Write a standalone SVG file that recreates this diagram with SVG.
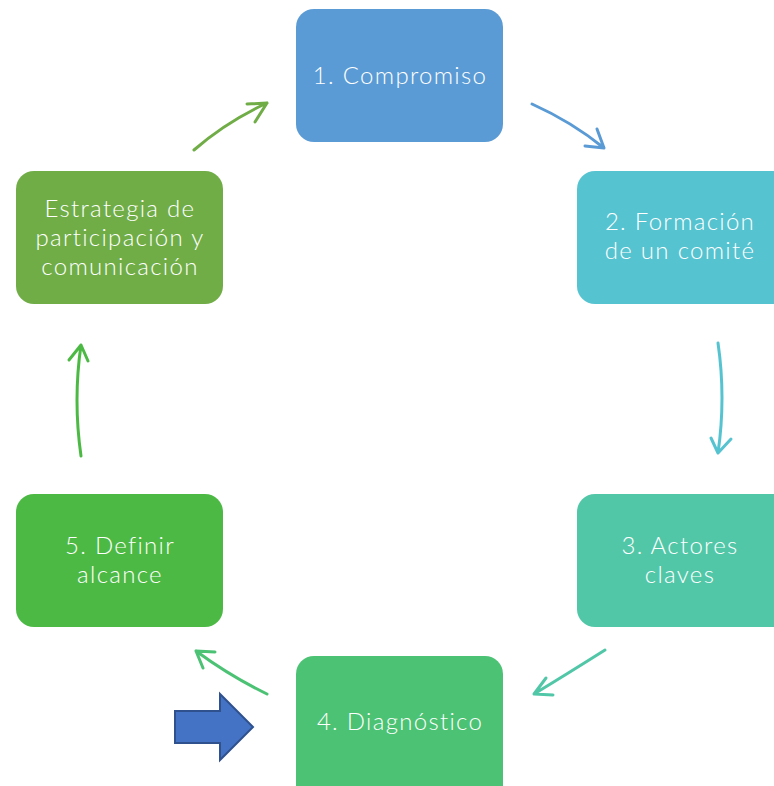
<svg xmlns="http://www.w3.org/2000/svg" width="774" height="786" viewBox="0 0 774 786">
<style>
.t{font-family:Lato,"Open Sans","Liberation Sans",sans-serif;font-size:24px;letter-spacing:1.3px;fill:#fff;text-anchor:middle;font-weight:300}
.c{fill:none;stroke-width:3;stroke-linecap:round;stroke-linejoin:round}
</style>
<rect width="774" height="786" fill="#fff"/>
<g id="n1"><rect x="296" y="9" width="207" height="133" rx="18" fill="#5B9BD5"/><text class="t" x="400" y="84">1. Compromiso</text></g>
<g id="n2"><rect x="577" y="171" width="215" height="133" rx="18" fill="#56C3D0"/><text class="t" x="680" y="230">2. Formación</text><text class="t" x="680" y="259">de un comité</text></g>
<g id="n3"><rect x="577" y="494" width="215" height="133" rx="18" fill="#51C7A8"/><text class="t" x="680" y="554">3. Actores</text><text class="t" x="680" y="583">claves</text></g>
<g id="n4"><rect x="296" y="656" width="207" height="150" rx="18" fill="#4CC274"/><text class="t" x="400" y="730">4. Diagnóstico</text></g>
<g id="n5"><rect x="16" y="494" width="207" height="133" rx="18" fill="#4CB944"/><text class="t" x="120" y="554">5. Definir</text><text class="t" x="120" y="583">alcance</text></g>
<g id="n6"><rect x="16" y="171" width="207" height="133" rx="18" fill="#70AD47"/><text class="t" x="120" y="217">Estrategia de</text><text class="t" x="120" y="246">participación y</text><text class="t" x="120" y="275">comunicación</text></g>
<g id="connectors">
<path class="c" stroke="#5B9BD5" d="M532,104 Q572,122 604,148 M585,146 L604,148 L597,129"/>
<path class="c" stroke="#56C3D0" d="M718,343 Q726,398 718,453 M711,438 L718,453 L731,439"/>
<path class="c" stroke="#51C7A8" d="M605,650 Q567,674 534,694 M546,678 L534,694 L553,695"/>
<path class="c" stroke="#4CC274" d="M267,694 Q230,676 196,651 M215,652 L196,651 L203,668"/>
<path class="c" stroke="#4CB944" d="M81,456 Q73,400 81,345 M69,360 L81,345 L88,361"/>
<path class="c" stroke="#70AD47" d="M194,150 Q226,122 267,103 M247,104 L267,103 L255,122"/>
</g>
<g id="block-arrow"><polygon points="175,711 220,711 220,694 253,727 220,760 220,743 175,743" fill="#4472C4" stroke="#2F528F" stroke-width="2"/></g>
</svg>
